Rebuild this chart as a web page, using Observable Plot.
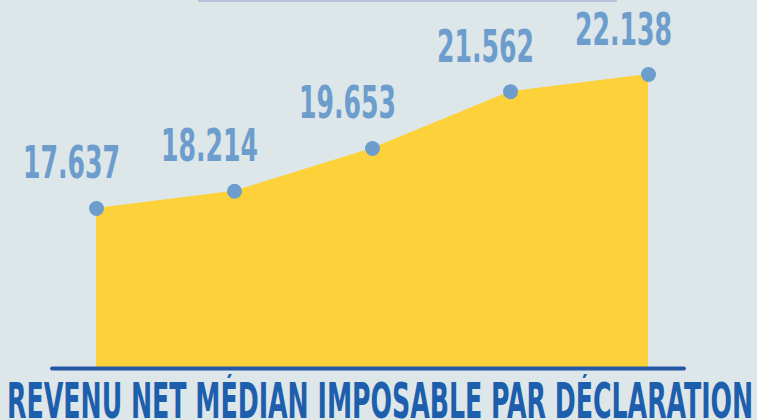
<!DOCTYPE html>
<html><head><meta charset="utf-8">
<script src="https://cdn.jsdelivr.net/npm/d3@7"></script>
<script src="https://cdn.jsdelivr.net/npm/@observablehq/plot@0.6"></script>
<style>
html,body{margin:0;padding:0;background:#dde6e8;}
#wrap{position:relative;width:757px;height:420px;overflow:hidden;background:#dde6e8;}
#chart svg{display:block;}
#topline{position:absolute;left:198px;top:0;width:419px;height:2px;background:#b7c3d8;}
#title{position:absolute;left:0;top:374px;width:757px;height:46px;overflow:hidden;}
#title span{position:absolute;left:7px;top:2px;font-family:"DejaVu Sans Condensed","DejaVu Sans",sans-serif;font-stretch:condensed;font-weight:bold;font-size:50px;line-height:50px;white-space:nowrap;color:#1e5fad;transform-origin:0 0;}
</style></head><body>
<div id="wrap"><div id="chart"></div><div id="topline"></div><div id="title"><span id="tspan">REVENU NET MÉDIAN IMPOSABLE PAR DÉCLARATION</span></div></div>
<script>
const periods = ["1", "2", "3", "4", "5"];
const values = [17637, 18214, 19653, 21562, 22138];
const labels = ["17.637", "18.214", "19.653", "21.562", "22.138"];
const yBase = 12262;
const yTop = 22138;

const data = periods.map((p, i) => ({period: p, value: values[i], label: labels[i]}));

const chart = Plot.plot({
  width: 757,
  height: 374,
  marginLeft: 52,
  marginRight: 73,
  marginTop: 0,
  marginBottom: 0,
  style: {background: "transparent", overflow: "visible"},
  x: {type: "point", domain: periods, range: [95, 648], padding: 0, axis: null},
  y: {domain: [yBase, yTop], range: [368, 74], axis: null},
  marks: [
    Plot.areaY(data, {x: "period", y1: yBase, y2: "value", fill: "#fdd13a", curve: "linear"}),
    Plot.ruleY([yBase], {stroke: "#2656a6", strokeWidth: 4, strokeLinecap: "round"}),
    Plot.dot(data, {x: "period", y: "value", r: 7.5, fill: "#6c9dcc"}),
    Plot.text(data, {
      x: "period", y: "value", text: "label",
      dx: -25, dy: -30, textAnchor: "middle", lineAnchor: "bottom",
      fill: "#6c9dcc", fontSize: 45, fontWeight: "bold",
      fontFamily: "'DejaVu Sans Condensed', 'DejaVu Sans', sans-serif"
    })
  ]
});
document.getElementById("chart").appendChild(chart);

d3.select(chart).selectAll("g[aria-label=text] text")
  .attr("textLength", 97)
  .attr("lengthAdjust", "spacingAndGlyphs");

const sp = document.getElementById("tspan");
const w = sp.offsetWidth;
sp.style.transform = `scaleX(${746 / w})`;
</script>
</body></html>
